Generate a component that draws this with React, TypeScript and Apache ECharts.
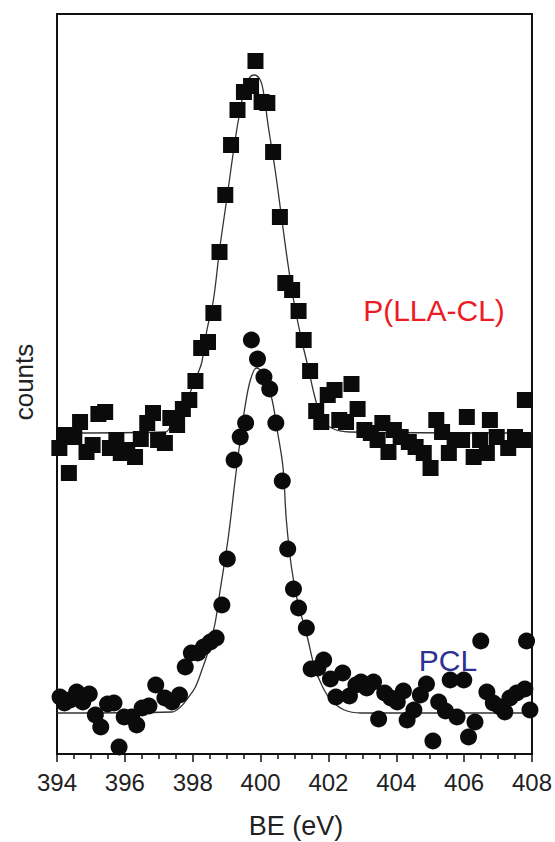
import React, { useEffect, useRef } from "react";
import * as echarts from "echarts";

// P(LLA-CL) data (squares): binding energy (eV) and counts (arbitrary units)
const sqBE = [394.07, 394.22, 394.35, 394.51, 394.68, 394.87, 395.05, 395.22, 395.42, 395.56, 395.75, 395.88, 396.07, 396.3, 396.47, 396.66, 396.83, 396.98, 397.18, 397.34, 397.54, 397.71, 397.9, 398.08, 398.25, 398.45, 398.61, 398.79, 398.96, 399.13, 399.32, 399.51, 399.72, 399.85, 400.03, 400.2, 400.37, 400.57, 400.73, 400.93, 401.12, 401.27, 401.46, 401.64, 401.79, 401.98, 402.18, 402.32, 402.52, 402.68, 402.86, 403.06, 403.25, 403.45, 403.59, 403.77, 403.93, 404.13, 404.37, 404.57, 404.81, 405.01, 405.18, 405.35, 405.55, 405.72, 405.94, 406.08, 406.28, 406.47, 406.67, 406.76, 406.96, 407.3, 407.5, 407.74, 407.79];
const sqCounts = [306, 319, 281, 317, 332, 302, 309, 340, 342, 306, 314, 301, 304, 297, 315, 331, 341, 314, 311, 336, 329, 345, 354, 373, 406, 412, 441, 502, 559, 609, 644, 662, 668, 693, 652, 651, 602, 537, 471, 464, 443, 414, 383, 343, 332, 359, 364, 334, 332, 370, 345, 324, 321, 314, 331, 302, 324, 317, 312, 307, 301, 286, 334, 322, 301, 314, 314, 337, 297, 314, 301, 334, 317, 306, 317, 314, 354];

// P(LLA-CL) fit curve
const sqFitBE = [394.0, 397.2, 397.34, 397.65, 397.98, 398.17, 398.27, 398.42, 398.61, 398.79, 399.0, 399.25, 399.4, 399.54, 399.69, 399.81, 399.99, 400.09, 400.23, 400.43, 400.63, 400.82, 401.01, 401.21, 401.4, 401.6, 401.8, 402.09, 402.63, 408.0];
const sqFitCounts = [321, 322, 327, 342, 366, 382, 392, 424, 454, 504, 554, 614, 644, 667, 677, 679, 674, 661, 627, 584, 534, 487, 447, 414, 387, 357, 336, 326, 322, 321];

// PCL data (circles)
const ciBE = [394.09, 394.22, 394.39, 394.58, 394.76, 394.95, 395.13, 395.29, 395.49, 395.68, 395.83, 395.98, 396.2, 396.35, 396.51, 396.71, 396.91, 397.18, 397.39, 397.61, 397.78, 397.96, 398.15, 398.32, 398.52, 398.69, 398.86, 399.02, 399.22, 399.4, 399.56, 399.73, 399.91, 400.1, 400.27, 400.45, 400.64, 400.8, 400.97, 401.12, 401.35, 401.49, 401.69, 401.86, 402.06, 402.22, 402.42, 402.62, 402.81, 402.96, 403.13, 403.33, 403.48, 403.66, 403.84, 404.03, 404.21, 404.32, 404.52, 404.71, 404.89, 405.08, 405.25, 405.45, 405.59, 405.79, 405.99, 406.13, 406.32, 406.49, 406.67, 406.86, 407.06, 407.2, 407.35, 407.55, 407.79, 407.84, 407.94];
const ciCounts = [57, 51, 54, 62, 52, 60, 39, 27, 50, 51, 7, 37, 37, 29, 46, 48, 69, 56, 52, 59, 87, 101, 101, 107, 112, 116, 149, 195, 294, 317, 331, 414, 395, 377, 365, 331, 273, 205, 165, 146, 126, 85, 86, 94, 75, 57, 81, 58, 69, 72, 66, 72, 35, 61, 56, 52, 63, 34, 44, 59, 70, 13, 52, 43, 74, 37, 74, 17, 32, 113, 62, 51, 47, 42, 56, 61, 65, 113, 44];

// PCL fit curve
const ciFitBE = [394.0, 397.39, 397.64, 397.88, 398.08, 398.27, 398.47, 398.66, 398.81, 399.05, 399.25, 399.4, 399.54, 399.7, 399.88, 400.05, 400.32, 400.49, 400.66, 400.76, 400.91, 401.1, 401.35, 401.59, 401.83, 402.08, 402.47, 402.96, 408.0];
const ciFitCounts = [41, 42, 47, 57, 67, 84, 104, 131, 164, 217, 274, 314, 347, 374, 386, 382, 357, 324, 287, 234, 187, 151, 121, 87, 67, 54, 44, 41, 41];

const xMin = 394;
const xMax = 408;
const xStep = 2;

const zip = (a: number[], b: number[]) => a.map((v, i) => [v, b[i]]);

const FONT = "'Liberation Sans', Arial, Helvetica, sans-serif";

export default function App() {
  const ref = useRef<HTMLDivElement>(null);
  useEffect(() => {
    if (!ref.current) return;
    const chart = echarts.init(ref.current, null, { renderer: "svg" });
    chart.setOption({
      animation: false,
      backgroundColor: "#ffffff",
      grid: {
        left: 57,
        top: 14,
        width: 478,
        height: 740,
        show: true,
        borderColor: "#111",
        borderWidth: 2,
        backgroundColor: "transparent",
      },
      xAxis: {
        type: "value",
        min: xMin,
        max: xMax,
        interval: xStep,
        axisLine: { show: true, onZero: false, lineStyle: { color: "#111", width: 2 } },
        axisTick: { show: true, inside: false, length: 8, lineStyle: { color: "#111", width: 1.5 } },
        minorTick: { show: true, splitNumber: 4, length: 5, lineStyle: { color: "#111", width: 1.5 } },
        splitLine: { show: false },
        axisLabel: { color: "#222", fontSize: 24, fontFamily: FONT, margin: 16 },
      },
      yAxis: {
        type: "value",
        min: 0,
        max: 740,
        axisLine: { show: false },
        axisTick: { show: false },
        axisLabel: { show: false },
        splitLine: { show: false },
      },
      series: [
        {
          type: "line",
          data: zip(sqFitBE, sqFitCounts),
          showSymbol: false,
          smooth: 0.35,
          lineStyle: { color: "#333", width: 1.3 },
          z: 1,
        },
        {
          type: "line",
          data: zip(ciFitBE, ciFitCounts),
          showSymbol: false,
          smooth: 0.35,
          lineStyle: { color: "#333", width: 1.3 },
          z: 1,
        },
        {
          type: "scatter",
          data: zip(sqBE, sqCounts),
          symbol: "rect",
          symbolSize: 16,
          itemStyle: { color: "#0b0b0b", opacity: 1 },
          z: 2,
        },
        {
          type: "scatter",
          data: zip(ciBE, ciCounts),
          symbol: "circle",
          symbolSize: 17,
          itemStyle: { color: "#0b0b0b", opacity: 1 },
          z: 2,
        },
      ],
      graphic: [
        {
          type: "text",
          x: 434,
          y: 310,
          style: { text: "P(LLA-CL)", fill: "#ED1C24", font: `30px ${FONT}`, textAlign: "center", textVerticalAlign: "middle" },
        },
        {
          type: "text",
          x: 448,
          y: 660,
          style: { text: "PCL", fill: "#2E3192", font: `30px ${FONT}`, textAlign: "center", textVerticalAlign: "middle" },
        },
        {
          type: "text",
          x: 296,
          y: 826,
          style: { text: "BE (eV)", fill: "#222", font: `27px ${FONT}`, textAlign: "center", textVerticalAlign: "middle" },
        },
        {
          type: "text",
          x: 24,
          y: 382,
          rotation: Math.PI / 2,
          style: { text: "counts", fill: "#222", font: `26px ${FONT}`, textAlign: "center", textVerticalAlign: "middle" },
        },
      ],
    });
    return () => chart.dispose();
  }, []);
  return (
    <div
      ref={ref}
      style={{ position: "fixed", left: 0, top: 0, width: 555, height: 842, background: "#fff" }}
    />
  );
}
